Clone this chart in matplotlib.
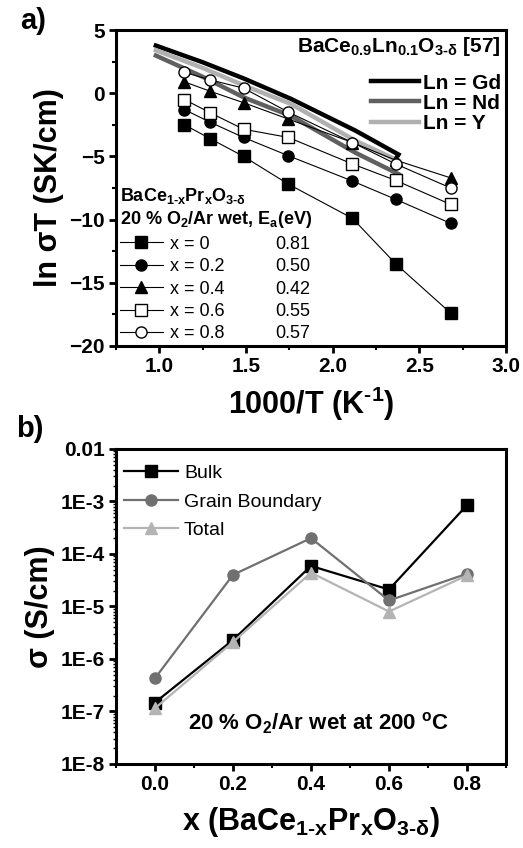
import math
import matplotlib
matplotlib.use('Agg')
import matplotlib.pyplot as plt
from matplotlib.ticker import MultipleLocator, LogLocator, FuncFormatter, NullFormatter
from matplotlib.lines import Line2D

plt.rcParams['font.family'] = ['Liberation Sans', 'DejaVu Sans']
plt.rcParams['mathtext.fontset'] = 'custom'
plt.rcParams['mathtext.default'] = 'bf'
plt.rcParams['mathtext.bf'] = 'Liberation Sans:bold'
plt.rcParams['mathtext.rm'] = 'Liberation Sans:bold'

HY = '\u2010'  # plain hyphen inside subscripts

# --- panel a: Arrhenius data, BaCe1-xPrxO3-d ---
inv_t = [1.145, 1.294, 1.486, 1.745, 2.114, 2.364, 2.681]
x_labels = ['x = 0', 'x = 0.2', 'x = 0.4', 'x = 0.6', 'x = 0.8']
ea = ['0.81', '0.50', '0.42', '0.55', '0.57']
ln_x00 = [-2.5, -3.6, -5.0, -7.2, -9.9, -13.5, -17.4]
ln_x02 = [-1.3, -2.3, -3.5, -4.95, -6.95, -8.4, -10.3]
ln_x04 = [0.9, 0.15, -0.75, -2.05, -3.9, -5.3, -6.7]
ln_x06 = [-0.5, -1.55, -2.85, -3.5, -5.6, -6.9, -8.8]
ln_x08 = [1.65, 1.05, 0.4, -1.5, -3.9, -5.6, -7.5]

# BaCe0.9Ln0.1O3-d reference [57]
ref_t = [0.98, 1.25, 1.49, 1.76, 2.13, 2.38]
ln_gd = [3.77, 2.45, 1.15, -0.45, -2.95, -4.85]
ln_nd = [2.98, 1.3, -0.35, -1.8, -4.7, -6.4]
ln_y = [3.4, 2.0, 0.6, -0.85, -3.75, -5.35]

# --- panel b: conductivity at 200 C ---
pr_x = [0.0, 0.2, 0.4, 0.6, 0.8]
bulk = [1.48e-7, 2.3e-6, 5.9e-5, 2.1e-5, 8.5e-4]
grain = [4.3e-7, 4.0e-5, 2.0e-4, 1.3e-5, 4.2e-5]
total = [1.15e-7, 2.1e-6, 4.4e-5, 8.0e-6, 3.9e-5]

fig = plt.figure(figsize=(5.23, 8.48), dpi=100)
ax1 = fig.add_axes([0.2218, 0.592, 0.7457, 0.3726])
ax2 = fig.add_axes([0.2218, 0.0991, 0.7457, 0.3715])

for ax in (ax1, ax2):
    for s in ax.spines.values():
        s.set_linewidth(2.2)
    ax.tick_params(which='major', direction='out', length=5, width=2, labelsize=15, pad=3)
    ax.tick_params(which='minor', direction='out', length=3, width=1.5)
    ax.tick_params(top=False, right=False)

# panel a
lg, = ax1.plot(ref_t, ln_gd, color='black', lw=3.2, label='Ln = Gd')
ln_, = ax1.plot(ref_t, ln_nd, color='#606060', lw=3.2, label='Ln = Nd')
ly, = ax1.plot(ref_t, ln_y, color='#b0b0b0', lw=3.2, label='Ln = Y')

series = [(ln_x00, 's', 'black'), (ln_x02, 'o', 'black'), (ln_x04, '^', 'black'),
          (ln_x06, 's', 'white'), (ln_x08, 'o', 'white')]
handles = []
for (vals, m, fc), lab in zip(series, x_labels):
    h, = ax1.plot(inv_t, vals, color='black', lw=0.8, marker=m, ms=8,
                  mfc=fc, mec='black', mew=1, label=lab)
    handles.append(h)

ax1.set_xlim(0.75, 3.0)
ax1.set_ylim(-20, 5)
ax1.xaxis.set_major_locator(MultipleLocator(0.5))
ax1.xaxis.set_minor_locator(MultipleLocator(0.25))
ax1.yaxis.set_major_locator(MultipleLocator(5))
ax1.yaxis.set_minor_locator(MultipleLocator(2.5))
ax1.xaxis.set_major_formatter(FuncFormatter(lambda v, p: '%.1f' % v))
ax1.set_xlabel('1000/T (K$^{' + HY + '1}$)', fontsize=22, fontweight='bold', labelpad=6)
ax1.set_ylabel('ln σT (SK/cm)', fontsize=22, fontweight='bold', labelpad=4)

leg_ref = ax1.legend(handles=[lg, ln_, ly], loc='upper right', frameon=False,
                     title='BaCe$_{0.9}$Ln$_{0.1}$O$_{3' + HY + 'δ}$ [57]',
                     alignment='right', handlelength=2.3, handletextpad=0.2,
                     labelspacing=0.06, borderaxespad=0.1, borderpad=0.15,
                     prop={'size': 15, 'weight': 'bold'},
                     title_fontproperties={'size': 15, 'weight': 'bold'})
leg_ref._legend_box.sep = 11
ax1.add_artist(leg_ref)

blank = [Line2D([], [], linestyle='none') for _ in ea]
leg_pr = ax1.legend(handles=handles + blank, labels=x_labels + ea, ncol=2,
                    loc='lower left', frameon=False,
                    title='BaCe$_{1' + HY + 'x}$Pr$_x$O$_{3' + HY + 'δ}$\n'
                          '20 % O$_2$/Ar wet, E$_a$(eV)',
                    alignment='left', handlelength=2.4, handletextpad=0.4,
                    columnspacing=0.0, labelspacing=0.3, borderaxespad=0.0,
                    borderpad=0.2, prop={'size': 13},
                    title_fontproperties={'size': 13, 'weight': 'bold'})

# panel b
ax2.plot(pr_x, bulk, color='black', lw=1.6, marker='s', ms=8, label='Bulk')
ax2.plot(pr_x, grain, color='#707070', lw=1.6, marker='o', ms=8, label='Grain Boundary')
ax2.plot(pr_x, total, color='#b4b4b4', lw=1.6, marker='^', ms=9, label='Total')
ax2.set_yscale('log')
ax2.set_xlim(-0.1, 0.9)
ax2.set_ylim(1e-8, 1e-2)
ax2.xaxis.set_major_locator(MultipleLocator(0.2))
ax2.xaxis.set_minor_locator(MultipleLocator(0.1))
ax2.xaxis.set_major_formatter(FuncFormatter(lambda v, p: '%.1f' % v))
ax2.yaxis.set_major_locator(LogLocator(base=10, numticks=10))
ax2.yaxis.set_minor_locator(LogLocator(base=10, subs=[2, 3, 4, 5, 6, 7, 8, 9], numticks=20))
ax2.yaxis.set_minor_formatter(NullFormatter())
ax2.yaxis.set_major_formatter(FuncFormatter(
    lambda v, p: '0.01' if abs(v - 0.01) < 1e-6 else '1E-%d' % round(-math.log10(v))))
ax2.tick_params(which='minor', axis='y', length=2.5, width=1)
ax2.set_xlabel('x (BaCe$_{1' + HY + 'x}$Pr$_x$O$_{3' + HY + 'δ}$)', fontsize=22,
               fontweight='bold', labelpad=8)
ax2.set_ylabel('σ (S/cm)', fontsize=22, fontweight='bold', labelpad=4)
ax2.legend(loc='upper left', bbox_to_anchor=(0.0, 0.975), frameon=False,
           prop={'size': 14}, handlelength=2.8, handletextpad=0.3,
           labelspacing=0.55, borderaxespad=0.1, borderpad=0.3)
ax2.text(0.52, 0.13, '20 % O$_2$/Ar wet at 200 $^o$C', transform=ax2.transAxes,
         ha='center', va='center', fontsize=16, fontweight='bold')

for ax in (ax1, ax2):
    for lab in ax.get_xticklabels() + ax.get_yticklabels():
        lab.set_fontweight('bold')

fig.text(0.038, 0.975, 'a)', fontsize=21, fontweight='bold', va='center')
fig.text(0.03, 0.494, 'b)', fontsize=21, fontweight='bold', va='center')

fig.savefig('out.png', dpi=100)
